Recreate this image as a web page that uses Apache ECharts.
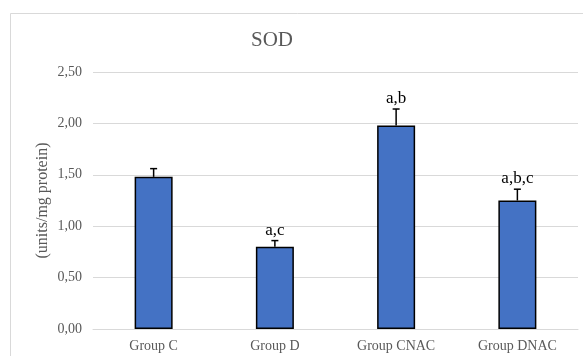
<!DOCTYPE html>
<html>
<head>
<meta charset="utf-8">
<script src="https://cdn.jsdelivr.net/npm/echarts@6/dist/echarts.min.js"></script>
<style>
  html, body { margin: 0; padding: 0; background: #fff; }
  #chart { width: 583px; height: 356px; }
</style>
</head>
<body>
<div id="chart"></div>
<script>
// SOD activity per group, with upper error bars and significance letters
const categories = ['Group C', 'Group D', 'Group CNAC', 'Group DNAC'];
const sodMeans = [1.48, 0.80, 1.98, 1.25];
const sodErrors = [0.08, 0.06, 0.16, 0.11];
const sigLetters = ['', 'a,c', 'a,b', 'a,b,c'];
const yTicks = [0, 0.5, 1, 1.5, 2, 2.5];

const serif = 'Liberation Serif';
const chart = echarts.init(document.getElementById('chart'), null, { renderer: 'canvas' });

const errorData = categories.map((c, i) => [i, sodMeans[i], sodErrors[i]]);

chart.setOption({
  animation: false,
  backgroundColor: '#ffffff',
  graphic: [
    {
      type: 'rect',
      shape: { x: 10.5, y: 13.5, width: 600, height: 400 },
      style: { fill: 'none', stroke: '#d9d9d9', lineWidth: 1 },
      silent: true
    },
    {
      type: 'text',
      x: 272, y: 40,
      style: {
        text: 'SOD', align: 'center', verticalAlign: 'middle',
        fontFamily: serif, fontSize: 21, fill: '#595959'
      },
      silent: true
    }
  ],
  grid: { left: 93, right: 5, top: 72, bottom: 27, containLabel: false },
  xAxis: {
    type: 'category',
    data: categories,
    axisTick: { show: false },
    axisLine: { show: true, lineStyle: { color: '#d9d9d9', width: 1 } },
    axisLabel: { fontFamily: serif, fontSize: 14, color: '#595959', margin: 10 }
  },
  yAxis: {
    type: 'value',
    min: yTicks[0],
    max: yTicks[yTicks.length - 1],
    interval: yTicks[1] - yTicks[0],
    name: '(units/mg protein)',
    nameLocation: 'middle',
    nameGap: 42,
    nameMoveOverlap: false,
    nameRotate: 90,
    nameTextStyle: { fontFamily: serif, fontSize: 16, color: '#595959' },
    axisLine: { show: false },
    axisTick: { show: false },
    splitLine: { lineStyle: { color: '#d9d9d9', width: 1 } },
    axisLabel: {
      fontFamily: serif, fontSize: 14, color: '#595959', margin: 11,
      formatter: v => v.toFixed(2).replace('.', ',')
    }
  },
  series: [
    {
      type: 'bar',
      data: sodMeans,
      barWidth: 38,
      itemStyle: { color: '#4472C4', borderColor: '#000000', borderWidth: 1.5 },
      z: 2
    },
    {
      type: 'custom',
      data: errorData,
      z: 3,
      renderItem: (params, api) => {
        const i = api.value(0);
        const mean = api.value(1);
        const err = api.value(2);
        const label = sigLetters[i];
        const base = api.coord([i, mean]);
        const top = api.coord([i, mean + err]);
        const cap = 3.5;
        const children = [
          { type: 'line', shape: { x1: base[0], y1: base[1], x2: top[0], y2: top[1] },
            style: { stroke: '#000', lineWidth: 1.5 } },
          { type: 'line', shape: { x1: top[0] - cap, y1: top[1], x2: top[0] + cap, y2: top[1] },
            style: { stroke: '#000', lineWidth: 1.5 } }
        ];
        if (label) {
          children.push({
            type: 'text',
            style: {
              text: label, x: top[0], y: top[1] - 2,
              align: 'center', verticalAlign: 'bottom',
              fontFamily: serif, fontSize: 17, fill: '#000'
            }
          });
        }
        return { type: 'group', children };
      }
    }
  ]
});
</script>
</body>
</html>
